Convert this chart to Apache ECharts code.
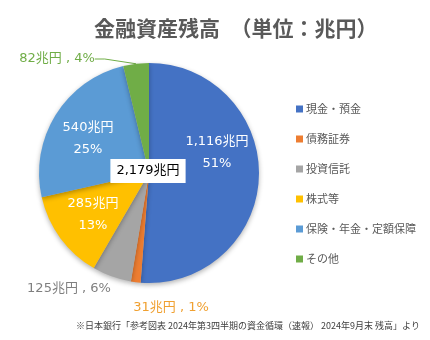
<!DOCTYPE html>
<html><head><meta charset="utf-8">
<script src="https://cdn.jsdelivr.net/npm/echarts@6/dist/echarts.min.js"></script>
<style>html,body{margin:0;padding:0;background:#fff}#c{width:430px;height:340px}</style>
</head><body><div id="c"></div>
<script>
const categories = ['現金・預金','債務証券','投資信託','株式等','保険・年金・定額保障','その他'];
const values = [1116, 31, 125, 285, 540, 82];
const percents = [51, 1, 6, 13, 25, 4];
const colors = ['#4472C4','#ED7D31','#A5A5A5','#FFC000','#5B9BD5','#70AD47'];
const titleText = '金融資産残高　（単位：兆円）';
const sourceText = '※日本銀行「参考図表 2024年第3四半期の資金循環（速報） 2024年9月末 残高」より';

const total = values.reduce((a,b)=>a+b,0);
const fmt = n => n.toLocaleString('en-US');
const FONT = '"Noto Sans CJK JP", sans-serif';
const LFONT = '"DejaVu Sans", "Noto Sans CJK JP", sans-serif';

// label styling / placement (not data)
const insideIdx = {0:true, 3:true, 4:true};
const outsideColors = {1:'#F0A030', 2:'#7F7F7F', 5:'#70AD47'};
const labelPos = {
  0:[217,153], 3:[93,215], 4:[88,139],
  1:[171,308], 2:[69,289], 5:[57,59]
};

const data = categories.map((name,i)=>{
  const inside = !!insideIdx[i];
  return {
    name, value: values[i],
    itemStyle:{color:colors[i]},
    label: inside ? {
      position:'inside', color:'#fff', fontSize:13, lineHeight:22, fontFamily:LFONT,
      formatter: fmt(values[i])+'兆円\n'+percents[i]+'%'
    } : {
      position:'outside', color:outsideColors[i], fontSize:13, fontFamily:LFONT,
      formatter: fmt(values[i])+'兆円 , '+percents[i]+'%'
    },
    labelLine: {show: i===5, length:6, length2:10, smooth:false, lineStyle:{color:'#70AD47', width:1}}
  };
});

const chart = echarts.init(document.getElementById('c'), null, {renderer:'canvas'});
chart.setOption({
  animation:false,
  title:{text:titleText, left:89, top:13,
    textStyle:{fontSize:21, fontWeight:'bold', color:'#595959', fontFamily:FONT}},
  legend:{orient:'vertical', left:291, top:98, itemWidth:7, itemHeight:7, itemGap:18,
    icon:'rect', data:categories,
    textStyle:{fontSize:11, lineHeight:12, color:'#595959', fontFamily:FONT, padding:[0,0,0,-2]}},
  graphic:[
    {type:'text', x:420, y:326, z:100,
      style:{text:sourceText, fill:'#404040', fontSize:9, fontFamily:FONT, align:'right', verticalAlign:'middle'}}
  ],
  series:[{
    type:'pie', center:[149,173], radius:[0,110], startAngle:90, clockwise:true,
    avoidLabelOverlap:false,
    itemStyle:{borderWidth:0, shadowBlur:5, shadowColor:'rgba(0,0,0,0.3)', shadowOffsetY:2},
    labelLayout: function(p){
      const q = labelPos[p.dataIndex];
      return {x:q[0], y:q[1], align:'center', verticalAlign:'middle'};
    },
    emphasis:{disabled:true},
    data
  },{
    type:'pie', center:[149,173], radius:[0,0], silent:true,
    label:{show:true, position:'center', formatter: fmt(total)+'兆円',
      backgroundColor:'#fff', color:'#000', fontSize:13, fontFamily:LFONT,
      padding:[6,6,5,6], offset:[-1,-2]},
    labelLine:{show:false},
    data:[{value:total, name:'total', itemStyle:{color:'transparent'}}]
  }]
});
</script></body></html>
